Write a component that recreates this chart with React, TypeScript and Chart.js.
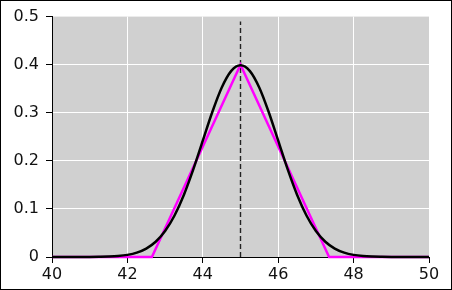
import React, { useEffect, useRef } from "react";
import { Chart, registerables } from "chart.js";

Chart.register(...registerables);

// Normal curve (mean 45)
const normalX = [40, 40.5, 41, 41.25, 41.5, 41.75, 42, 42.25, 42.5, 42.75, 43, 43.25, 43.5, 43.75, 44, 44.25, 44.5, 44.75, 45, 45.25, 45.5, 45.75, 46, 46.25, 46.5, 46.75, 47, 47.25, 47.5, 47.75, 48, 48.25, 48.5, 48.75, 49, 49.5, 50];
const normalY = [0.0000, 0.00002, 0.0001, 0.0004, 0.0009, 0.0020, 0.0044, 0.0091, 0.0175, 0.0317, 0.0540, 0.0863, 0.1295, 0.1826, 0.2420, 0.3011, 0.3521, 0.3867, 0.3989, 0.3867, 0.3521, 0.3011, 0.2420, 0.1826, 0.1295, 0.0863, 0.0540, 0.0317, 0.0175, 0.0091, 0.0044, 0.0020, 0.0009, 0.0004, 0.0001, 0.00002, 0.0000];

// Triangular approximation
const triX = [40, 42.65, 45, 47.35, 50];
const triY = [0, 0, 0.4, 0, 0];

// Mean marker
const meanX = [45, 45];
const meanY = [0, 0.49];

const xTicks = { min: 40, max: 50, step: 2 };
const yTicks = { min: 0, max: 0.5, step: 0.1 };

const toPts = (xs: number[], ys: number[]) => xs.map((x, i) => ({ x, y: ys[i] }));

export default function App() {
  const ref = useRef<HTMLCanvasElement | null>(null);
  useEffect(() => {
    document.body.style.margin = "0";
    const canvas = ref.current!;
    const bgPlugin = {
      id: "bg",
      beforeDraw(chart: any) {
        const { ctx, chartArea, width, height } = chart;
        ctx.save();
        ctx.fillStyle = "#ffffff";
        ctx.fillRect(0, 0, width, height);
        ctx.fillStyle = "#d0d0d0";
        ctx.fillRect(chartArea.left, chartArea.top, chartArea.right - chartArea.left, chartArea.bottom - chartArea.top);
        ctx.restore();
      },
      afterDraw(chart: any) {
        const { ctx, width, height } = chart;
        ctx.save();
        ctx.strokeStyle = "#000";
        ctx.lineWidth = 1;
        ctx.strokeRect(0.5, 0.5, width - 1, height - 1);
        ctx.restore();
      },
    };
    const font = { family: "DejaVu Sans", size: 16 };
    const chart = new Chart(canvas, {
      type: "line",
      data: {
        datasets: [
          {
            data: toPts(normalX, normalY),
            borderColor: "#000000",
            borderWidth: 2.5,
            pointRadius: 0,
            cubicInterpolationMode: "monotone",
            clip: 4,
          } as any,
          {
            data: toPts(triX, triY),
            borderColor: "#ff00ff",
            borderWidth: 2.5,
            pointRadius: 0,
            tension: 0,
            clip: 4,
          } as any,
          {
            data: toPts(meanX, meanY),
            borderColor: "#222222",
            borderWidth: 1.4,
            borderDash: [5, 3],
            pointRadius: 0,
            tension: 0,
          } as any,
        ],
      },
      options: {
        animation: false,
        responsive: false,
        maintainAspectRatio: false,
        layout: { padding: { left: 0, right: 23, top: 16, bottom: 0 } },
        plugins: { legend: { display: false }, tooltip: { enabled: false } },
        scales: {
          x: {
            type: "linear",
            min: xTicks.min,
            max: xTicks.max,
            afterFit(scale: any) {
              scale.height = 33;
            },
            ticks: { stepSize: xTicks.step, color: "#111", font, padding: 2, maxRotation: 0 },
            grid: {
              color: (c: any) => (c.tick && (c.tick.value === 40 || c.tick.value === 50) ? "rgba(0,0,0,0)" : "#ffffff"),
              tickColor: "#000",
              tickLength: 6,
              lineWidth: 1,
            },
            border: { color: "#000", width: 1 },
          },
          y: {
            min: yTicks.min,
            max: yTicks.max,
            afterFit(scale: any) {
              scale.width = 52;
            },
            ticks: { stepSize: yTicks.step, color: "#111", font, padding: 7 },
            grid: {
              color: (c: any) => (c.tick && (c.tick.value === 0 || c.tick.value === 0.5) ? "rgba(0,0,0,0)" : "#ffffff"),
              tickColor: "#000",
              tickLength: 6,
              lineWidth: 1,
            },
            border: { color: "#000", width: 1 },
          },
        },
      } as any,
      plugins: [bgPlugin],
    });
    return () => chart.destroy();
  }, []);
  return (
    <div style={{ position: "absolute", left: 0, top: 0, width: 452, height: 290 }}>
      <canvas ref={ref} width={452} height={290} style={{ width: 452, height: 290, display: "block" }} />
    </div>
  );
}
